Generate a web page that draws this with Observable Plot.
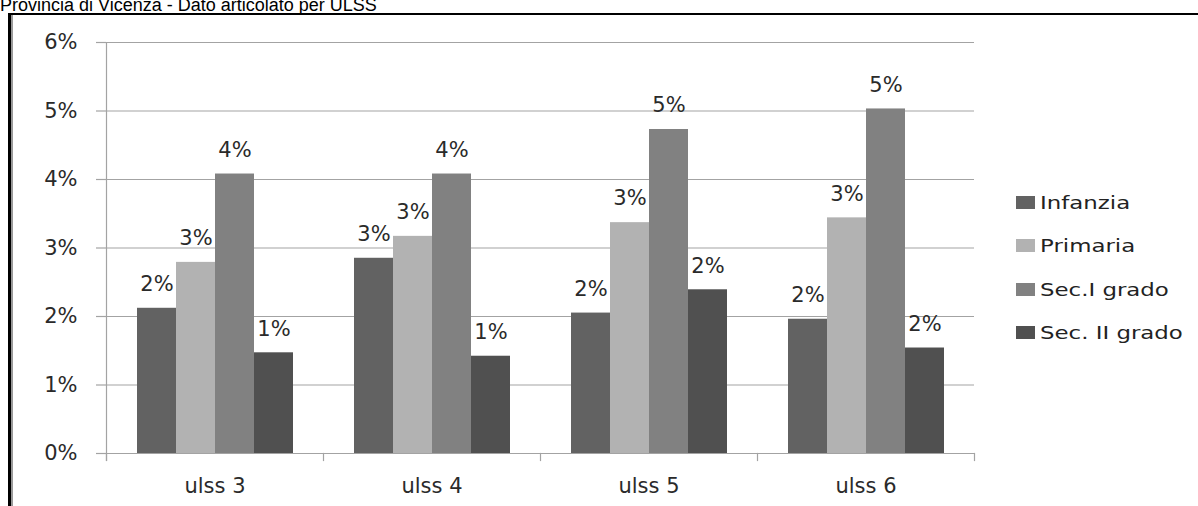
<!DOCTYPE html>
<html>
<head>
<meta charset="utf-8">
<script src="https://cdn.jsdelivr.net/npm/d3@7"></script>
<script src="https://cdn.jsdelivr.net/npm/@observablehq/plot@0.6"></script>
<style>
  html, body { margin: 0; padding: 0; background: #fff; }
  body { width: 1198px; height: 506px; position: relative; overflow: hidden; }
  #title {
    position: absolute; left: 0; top: -5px; line-height: 20px;
    font-family: "Liberation Sans", Arial, sans-serif; font-size: 18px; color: #000;
    white-space: nowrap;
  }
  #frame {
    position: absolute; left: 8px; top: 13px; width: 1190px; height: 493px;
    border-top: 2px solid #000; border-left: 3px solid #000;
    box-shadow: inset 2px 0 0 #9a9a9a;
    box-sizing: border-box;
  }
  #chart { position: absolute; left: 0; top: 16px; }
  #legend { position: absolute; left: 1016px; top: 181px; }
  .item { height: 43.3px; display: flex; align-items: center; position: relative; }
  .sw { width: 19px; height: 13px; margin-right: 5px; }
  .lab {
    font-family: "DejaVu Sans", sans-serif; font-size: 18px; color: #222;
    transform: scaleX(1.27); transform-origin: left center; white-space: nowrap;
  }
</style>
</head>
<body>
<div id="title">Provincia di Vicenza - Dato articolato per ULSS</div>
<div id="frame"></div>
<div id="chart"></div>
<div id="legend"></div>
<script>
const groups = ["ulss 3", "ulss 4", "ulss 5", "ulss 6"];
const categories = ["Infanzia", "Primaria", "Sec.I grado", "Sec. II grado"];
const infanzia = [2.12, 2.85, 2.05, 1.96];
const primaria = [2.79, 3.17, 3.37, 3.44];
const secI = [4.08, 4.08, 4.73, 5.03];
const secII = [1.47, 1.42, 2.39, 1.54];
const yTicks = [0, 1, 2, 3, 4, 5, 6];
const palette = ["#626262", "#b2b2b2", "#818181", "#505050"];

const series = [infanzia, primaria, secI, secII];
const rows = [];
groups.forEach((g, gi) => {
  categories.forEach((c, ci) => {
    rows.push({group: g, cat: c, value: series[ci][gi]});
  });
});

const W = 1198, H = 490, mTop = 26, mBottom = 53;
const font = "DejaVu Sans, sans-serif";

const plot = Plot.plot({
  width: W,
  height: H,
  marginTop: mTop,
  marginBottom: mBottom,
  marginLeft: 105,
  marginRight: 223,
  style: {fontFamily: font, fontSize: "21px", color: "#2a2a2a", background: "transparent", overflow: "visible"},
  fx: {domain: groups, paddingInner: 0, paddingOuter: 0},
  x: {domain: categories, paddingInner: 0, paddingOuter: 0.75, axis: null},
  y: {domain: [0, 6], axis: null},
  color: {domain: categories, range: palette},
  marks: [
    Plot.ruleY(yTicks, {y: d => d, stroke: "#a3a3a3", strokeWidth: 1.2}),
    Plot.barY(rows, {fx: "group", x: "cat", y: "value", fill: "cat"}),
    Plot.text(rows, {fx: "group", x: "cat", y: "value", text: d => Math.round(d.value) + "%", dy: -24, fill: "#2a2a2a"}),
    Plot.frame({anchor: "left", facetAnchor: "left", stroke: "#a3a3a3", strokeWidth: 1.2, strokeOpacity: 1, insetBottom: -7}),
    Plot.frame({anchor: "left", stroke: "#a3a3a3", strokeWidth: 1.2, strokeOpacity: 1, insetTop: H - mTop - mBottom, insetBottom: -7}),
    Plot.frame({anchor: "right", facetAnchor: "right", stroke: "#a3a3a3", strokeWidth: 1.2, strokeOpacity: 1, insetTop: H - mTop - mBottom, insetBottom: -7}),
    Plot.axisY(yTicks, {tickSize: 10, tickPadding: 19, tickFormat: d => d + "%", stroke: "#a3a3a3", strokeWidth: 1.2, label: null, fill: "#2a2a2a"}),
    Plot.axisFx({anchor: "bottom", tickSize: 0, tickPadding: 25, label: null, fill: "#2a2a2a"})
  ]
});
document.getElementById("chart").appendChild(plot);

const legend = document.getElementById("legend");
categories.forEach((c, i) => {
  const item = document.createElement("div");
  item.className = "item";
  const sw = document.createElement("div");
  sw.className = "sw";
  sw.style.background = palette[i];
  const lab = document.createElement("span");
  lab.className = "lab";
  lab.textContent = c;
  item.appendChild(sw);
  item.appendChild(lab);
  legend.appendChild(item);
});
</script>
</body>
</html>
